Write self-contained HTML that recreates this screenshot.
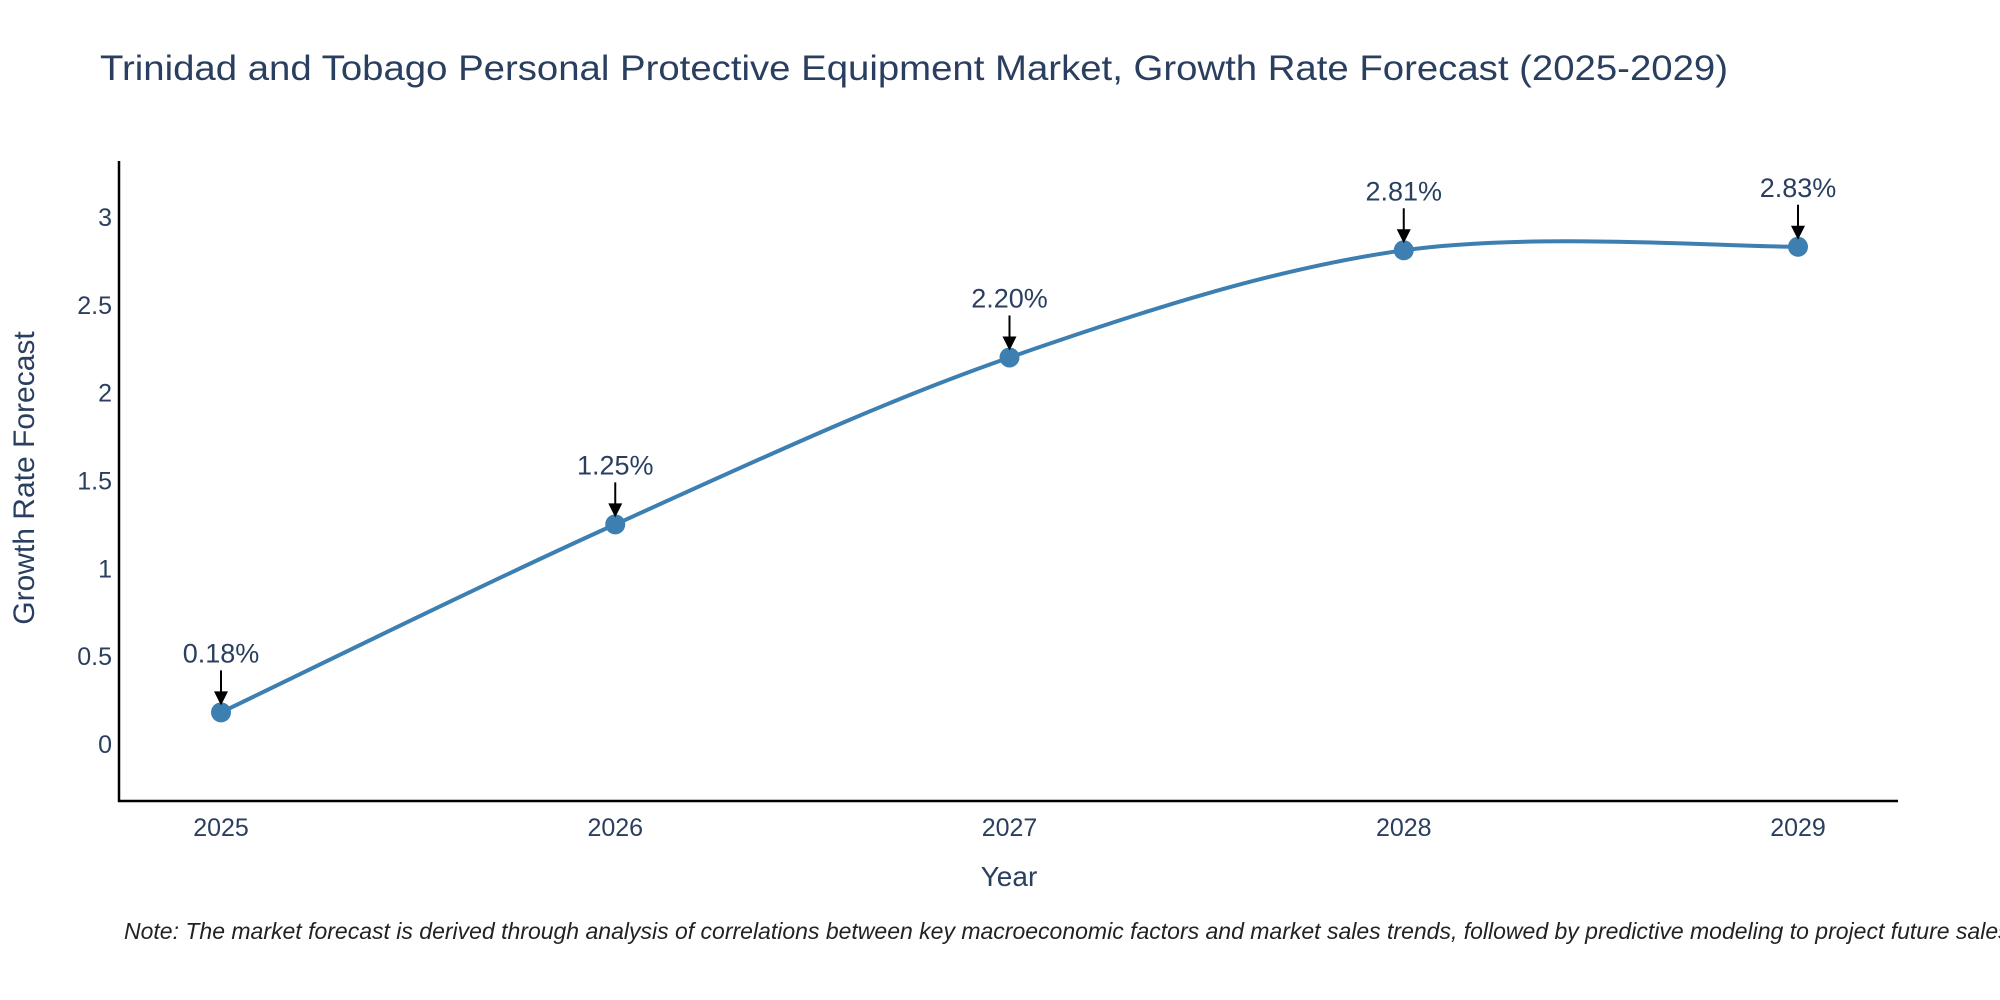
<!DOCTYPE html>
<html><head><meta charset="utf-8"><style>
body{margin:0;background:#fff;overflow:hidden;}
svg{display:block;font-family:"Liberation Sans",sans-serif;}
</style></head><body>
<svg width="2000" height="1000" viewBox="0 0 2000 1000">
<text x="100" y="80" font-size="35" fill="#2a3f5f" textLength="1628" lengthAdjust="spacingAndGlyphs">Trinidad and Tobago Personal Protective Equipment Market, Growth Rate Forecast (2025-2029)</text>
<g id="yticks"></g><g id="xticks"></g>
<line x1="119" y1="161" x2="119" y2="802" stroke="#000" stroke-width="2.5"/>
<line x1="118" y1="801" x2="1898" y2="801" stroke="#000" stroke-width="2.5"/>
<path id="line" fill="none" stroke="#3d7fb0" stroke-width="4"/>
<g id="marks"></g>
<text x="1009" y="886" font-size="28" fill="#2a3f5f" text-anchor="middle">Year</text>
<text transform="translate(34,478) rotate(-90)" font-size="30" fill="#2a3f5f" text-anchor="middle">Growth Rate Forecast</text>
<text x="124" y="939" font-size="23" font-style="italic" fill="#222">Note: The market forecast is derived through analysis of correlations between key macroeconomic factors and market sales trends, followed by predictive modeling to project future sales.</text>
</svg>
<script>
const years=[2025,2026,2027,2028,2029];
const values=[0.18,1.25,2.20,2.81,2.83];
const yTickVals=[0,0.5,1,1.5,2,2.5,3];
const yTickLabels=["0","0.5","1","1.5","2","2.5","3"];
const NS="http://www.w3.org/2000/svg";
const xs=y=>221+(y-2025)*(1798-221)/4;
const ys=v=>744-v*175.7;
function mk(t,a,p){const e=document.createElementNS(NS,t);for(const k in a)e.setAttribute(k,a[k]);p.appendChild(e);return e;}
const yt=document.getElementById('yticks');
yTickVals.forEach((v,i)=>{const t=mk('text',{x:112,y:ys(v)+9,'font-size':25,fill:'#2a3f5f','text-anchor':'end'},yt);t.textContent=yTickLabels[i];

});
const xt=document.getElementById('xticks');
years.forEach(y=>{const t=mk('text',{x:xs(y),y:836,'font-size':25,fill:'#2a3f5f','text-anchor':'middle'},xt);t.textContent=y;

});
const P=years.map((y,i)=>[xs(y),ys(values[i])]);
let d=`M${P[0][0]},${P[0][1]}`;const k=0.5/3*2;
for(let i=0;i<P.length-1;i++){const p0=P[Math.max(i-1,0)],p1=P[i],p2=P[i+1],p3=P[Math.min(i+2,P.length-1)];
const c1=[p1[0]+(p2[0]-p0[0])*k/2,p1[1]+(p2[1]-p0[1])*k/2],c2=[p2[0]-(p3[0]-p1[0])*k/2,p2[1]-(p3[1]-p1[1])*k/2];
d+=` C${c1[0]},${c1[1]} ${c2[0]},${c2[1]} ${p2[0]},${p2[1]}`;}
document.getElementById('line').setAttribute('d',d);
const g=document.getElementById('marks');
P.forEach((p,i)=>{const c=mk('circle',{cx:p[0],cy:p[1],r:10,fill:'#3d7fb0'},g);


const l=mk('line',{x1:p[0],y1:p[1]-42,x2:p[0],y2:p[1]-20,stroke:'#000','stroke-width':2},g);


const h=mk('polygon',{points:`${p[0]-7},${p[1]-21} ${p[0]+7},${p[1]-21} ${p[0]},${p[1]-7}`,fill:'#000'},g);


const t=mk('text',{x:p[0],y:p[1]-50,'font-size':27,fill:'#2a3f5f','text-anchor':'middle'},g);t.textContent=values[i].toFixed(2)+'%';

});
</script>
</body></html>
